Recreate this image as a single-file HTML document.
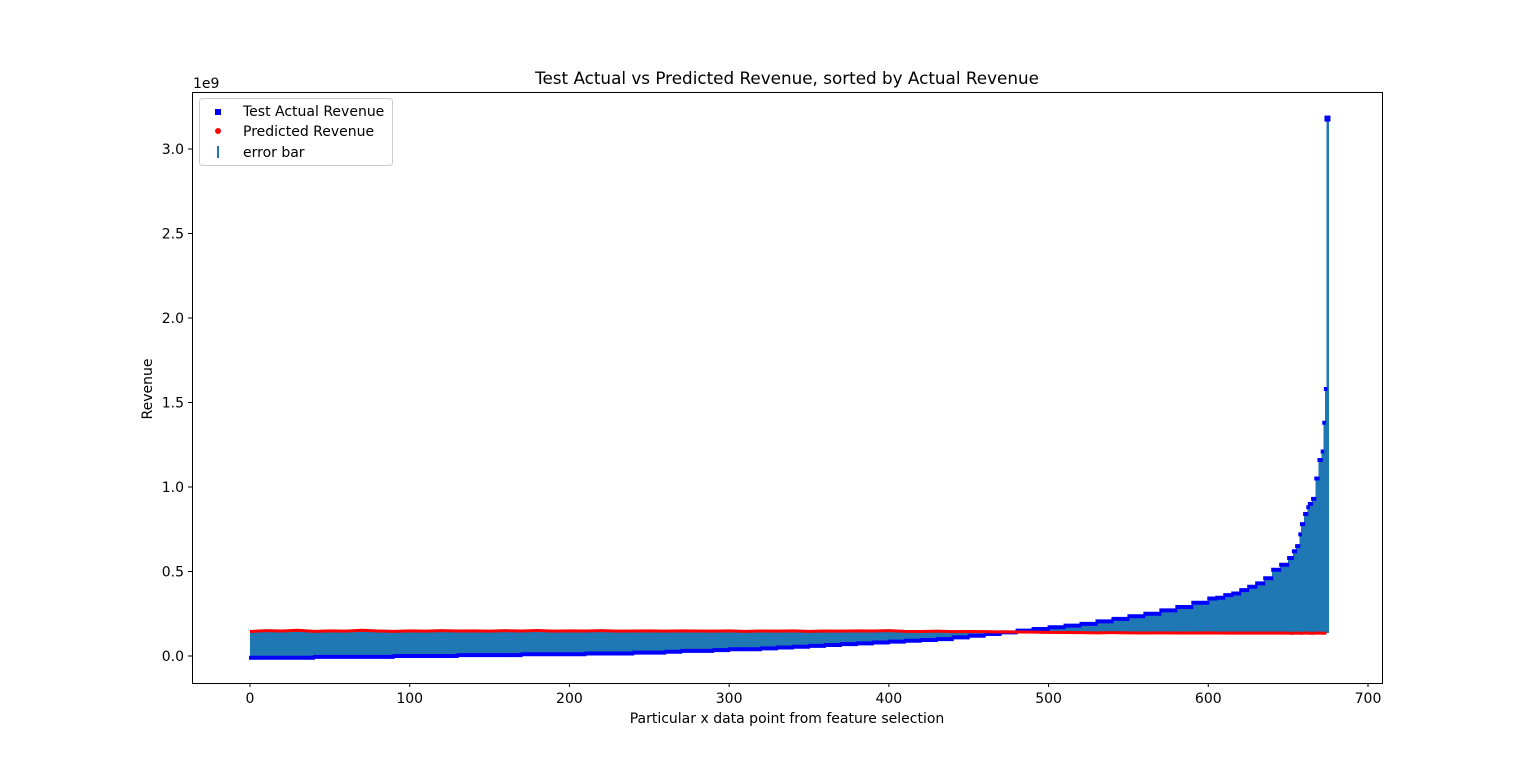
<!DOCTYPE html>
<html><head><meta charset="utf-8"><style>
body{margin:0;background:#fff;}
svg text{font-family:"DejaVu Sans","Liberation Sans",sans-serif;font-size:14px;fill:#000;}
</style></head><body>
<svg id="chart" width="1536" height="767">
<rect x="0" y="0" width="1536" height="767" fill="#fff"/>
<g id="plot"></g>
<rect x="192.5" y="92.5" width="1190" height="591" fill="none" stroke="#000" stroke-width="1"/>
<g id="axes"></g>
<text x="787" y="84" text-anchor="middle" style="font-size:16.8px">Test Actual vs Predicted Revenue, sorted by Actual Revenue</text>
<text x="193" y="88">1e9</text>
<text x="152" y="389" text-anchor="middle" transform="rotate(-90 152 389)">Revenue</text>
<text x="787" y="723" text-anchor="middle">Particular x data point from feature selection</text>
<g>
<rect x="199.5" y="98.5" width="193" height="67" rx="3" fill="#fff" fill-opacity="0.8" stroke="#ccc"/>
<rect x="215" y="109" width="6" height="6" fill="#0000ff"/>
<text x="243" y="116">Test Actual Revenue</text>
<circle cx="218" cy="131" r="3" fill="#ff0000"/>
<text x="243" y="136">Predicted Revenue</text>
<line x1="218" y1="146" x2="218" y2="158" stroke="#1f77b4" stroke-width="2"/>
<text x="243" y="157">error bar</text>
</g>
</svg>
<script>
const idx = [0,10,20,30,40,50,60,70,80,90,100,110,120,130,140,150,160,170,180,190,200,210,220,230,240,250,260,270,280,290,300,310,320,330,340,350,360,370,380,390,400,410,420,430,440,450,460,470,480,490,500,510,520,530,540,550,560,570,580,590,600,605,610,615,620,625,630,635,640,645,650,653,655,657,658,660,662,663,665,667,669,671,672,673,674];
const actual = [-0.01,-0.01,-0.01,-0.01,-0.005,-0.005,-0.005,-0.005,-0.005,0,0,0,0,0.005,0.005,0.005,0.005,0.01,0.01,0.01,0.01,0.015,0.015,0.015,0.02,0.02,0.025,0.03,0.03,0.035,0.04,0.04,0.045,0.05,0.055,0.06,0.065,0.07,0.075,0.08,0.085,0.09,0.095,0.1,0.11,0.12,0.13,0.14,0.15,0.16,0.17,0.18,0.19,0.205,0.22,0.235,0.25,0.27,0.29,0.315,0.34,0.345,0.36,0.37,0.39,0.41,0.43,0.46,0.51,0.54,0.58,0.62,0.65,0.72,0.78,0.84,0.88,0.9,0.93,1.05,1.16,1.21,1.38,1.58,3.18];
const predicted = [0.145,0.15,0.148,0.152,0.146,0.149,0.147,0.152,0.148,0.146,0.149,0.147,0.15,0.148,0.149,0.147,0.15,0.148,0.151,0.147,0.149,0.148,0.15,0.147,0.148,0.149,0.147,0.149,0.148,0.147,0.149,0.146,0.148,0.147,0.149,0.146,0.148,0.147,0.149,0.148,0.15,0.146,0.145,0.147,0.144,0.145,0.144,0.143,0.142,0.141,0.14,0.139,0.138,0.137,0.138,0.137,0.136,0.137,0.136,0.136,0.137,0.136,0.135,0.136,0.135,0.136,0.135,0.136,0.135,0.136,0.135,0.134,0.136,0.135,0.134,0.135,0.136,0.135,0.134,0.135,0.136,0.135,0.134,0.135,0.135];
const xTicks = [0,100,200,300,400,500,600,700];
const yTicks = [0,0.5,1.0,1.5,2.0,2.5,3.0];
const yTickLabels = ["0.0","0.5","1.0","1.5","2.0","2.5","3.0"];

const NS="http://www.w3.org/2000/svg";
const X = v => 250 + v*(1368-250)/700;
const Y = v => 656 - v*169;
function mk(tag, attrs, parent){const e=document.createElementNS(NS,tag);for(const k in attrs)e.setAttribute(k,attrs[k]);parent.appendChild(e);return e;}
const plotG=document.getElementById('plot'), axesG=document.getElementById('axes');

for(let i=0;i<idx.length;i++){
  const x0=X(idx[i]), x1=i<idx.length-1?X(idx[i+1]):X(idx[i])+2;
  const a=Y(actual[i]), p=Y(predicted[i]);
  const r=mk('rect',{x:x0,y:Math.min(a,p),width:Math.max(x1-x0,2)+0.6,height:Math.abs(a-p),fill:'#1f77b4','shape-rendering':'crispEdges'},plotG);
  
  
}
let dA='', dP='';
for(let i=0;i<idx.length;i++){
  const x0=X(idx[i]), x1=i<idx.length-1?X(idx[i+1]):X(idx[i])+2;
  dA+='M'+(x0-1)+','+Y(actual[i])+'L'+(x1+1)+','+Y(actual[i]);
  dP+=(i?'L':'M')+x0+','+Y(predicted[i]);
}
const la=mk('path',{d:dA,fill:'none',stroke:'#0000ff','stroke-width':4},plotG);


const lp=mk('path',{d:dP,fill:'none',stroke:'#ff0000','stroke-width':3},plotG);


const lastI=idx.length-1;
const maxPt=mk('rect',{x:X(idx[lastI])-2,y:Y(actual[lastI])-3,width:6,height:6,fill:'#0000ff'},plotG);



xTicks.forEach(t=>{
  mk('line',{x1:X(t),x2:X(t),y1:683,y2:687,stroke:'#000'},axesG);
  const tx=mk('text',{x:X(t),y:703,'text-anchor':'middle'},axesG);
  tx.textContent=t;
  
  
});
yTicks.forEach((t,i)=>{
  mk('line',{x1:188,x2:192,y1:Y(t),y2:Y(t),stroke:'#000'},axesG);
  const tx=mk('text',{x:184,y:Y(t)+5,'text-anchor':'end'},axesG);
  tx.textContent=yTickLabels[i];
  
  
});
</script>
</body></html>
